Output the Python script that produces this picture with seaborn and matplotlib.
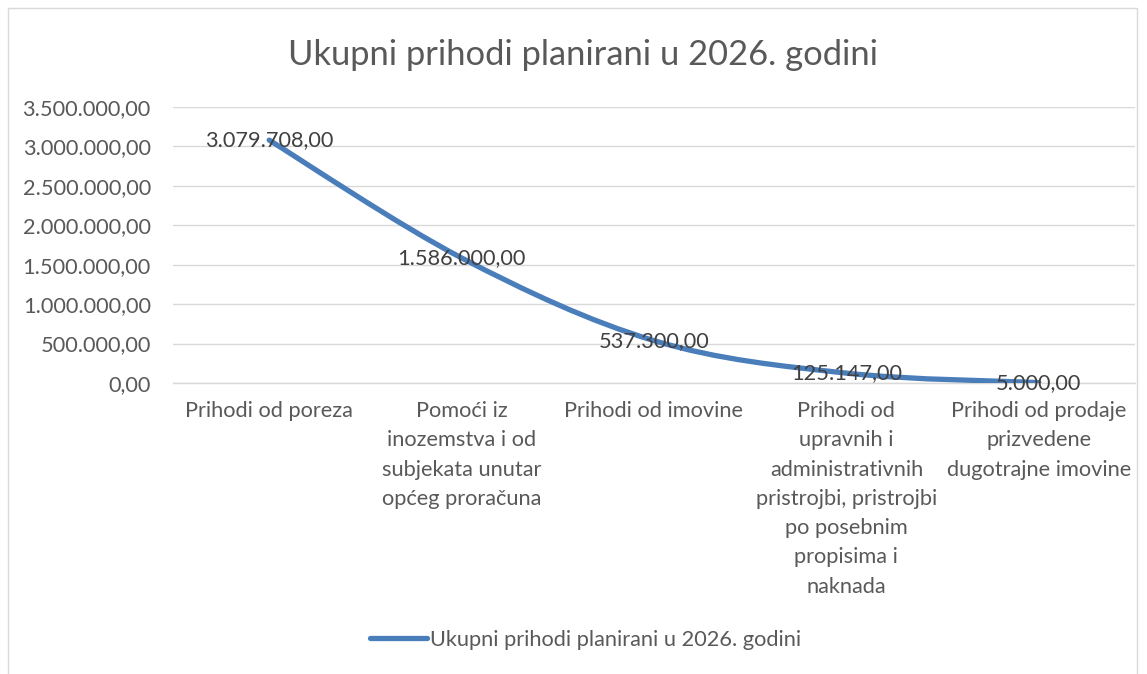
"""
Ukupni prihodi planirani u 2026. godini - smoothed line chart
"""

import numpy as np
import seaborn as sns
import matplotlib.pyplot as plt
from matplotlib.path import Path
from matplotlib.patches import PathPatch, Rectangle
from matplotlib.lines import Line2D

# --- Data ---
categories = [
    "Prihodi od poreza",
    "Pomoći iz\ninozemstva i od\nsubjekata unutar\nopćeg proračuna",
    "Prihodi od imovine",
    "Prihodi od\nupravnih i\nadministrativnih\npristrojbi, pristrojbi\npo posebnim\npropisima i\nnaknada",
    "Prihodi od prodaje\nprizvedene\ndugotrajne imovine",
]
values = [3079708.00, 1586000.00, 537300.00, 125147.00, 5000.00]
y_ticks = [0, 500000, 1000000, 1500000, 2000000, 2500000, 3000000, 3500000]
series_name = "Ukupni prihodi planirani u 2026. godini"
title = "Ukupni prihodi planirani u 2026. godini"

LINE_BLUE = "#4A7EBB"
GREY_TEXT = "#595959"
DARK_TEXT = "#404040"
GRID = "#D9D9D9"
FS = 15.7


def hr_number(v):
    # Croatian format: 3.500.000,00
    s = f"{v:,.2f}"
    return s.replace(",", "X").replace(".", ",").replace("X", ".")


sns.set_theme(style="white")
plt.rcParams["font.family"] = ["Lato", "DejaVu Sans"]

fig = plt.figure(figsize=(11.47, 6.74), dpi=100)
ax = fig.add_axes([173 / 1147, 1 - 383 / 674, (1135 - 173) / 1147, (383 - 107) / 674])

# chart area border
fig.patches.append(Rectangle((8 / 1147, -0.05), (1137 - 8) / 1147, 1.05 - 8 / 674,
                             transform=fig.transFigure, fill=False,
                             edgecolor=GRID, linewidth=1.0))

# --- Smoothed line (Excel-like Catmull-Rom as cubic Bezier) ---
xs = np.arange(len(values), dtype=float)
ys = np.array(values, dtype=float)
px = np.concatenate([[xs[0]], xs, [xs[-1]]])
py = np.concatenate([[ys[0]], ys, [ys[-1]]])
verts = [(xs[0], ys[0])]
codes = [Path.MOVETO]
for i in range(len(xs) - 1):
    c1 = (xs[i] + (px[i + 2] - px[i]) / 6, ys[i] + (py[i + 2] - py[i]) / 6)
    c2 = (xs[i + 1] - (px[i + 3] - px[i + 1]) / 6, ys[i + 1] - (py[i + 3] - py[i + 1]) / 6)
    verts += [c1, c2, (xs[i + 1], ys[i + 1])]
    codes += [Path.CURVE4] * 3
ax.add_patch(PathPatch(Path(verts, codes), facecolor="none", edgecolor=LINE_BLUE,
                       linewidth=3.8, capstyle="round", joinstyle="round", zorder=3))

# data labels
for x, v in zip(xs, values):
    ax.text(x, v, hr_number(v), ha="center", va="center", fontsize=FS,
            color=DARK_TEXT, zorder=4)

# --- Axes styling ---
ax.set_xlim(-0.5, len(values) - 0.5)
ax.set_ylim(0, 3500000)
ax.set_yticks(y_ticks)
ax.set_yticklabels([hr_number(t) for t in y_ticks])
ax.set_xticks(xs)
ax.set_xticklabels(categories, linespacing=1.58)
ax.set_xticks(np.arange(-0.5, len(values), 1.0), minor=True)

ax.tick_params(axis="y", length=0, pad=16, labelsize=FS, labelcolor=GREY_TEXT)
ax.tick_params(axis="x", which="major", length=0, pad=13, labelsize=FS,
               labelcolor=GREY_TEXT)
ax.tick_params(axis="x", which="minor", length=6, width=1, color=GRID, direction="out")
for lbl in ax.get_xticklabels():
    lbl.set_verticalalignment("top")
    lbl.set_horizontalalignment("center")

ax.grid(axis="y", color=GRID, linewidth=1)
ax.set_axisbelow(True)
for side in ["top", "right", "left"]:
    ax.spines[side].set_visible(False)
ax.spines["bottom"].set_color(GRID)
ax.spines["bottom"].set_linewidth(1)

# --- Title & legend ---
fig.text(583 / 1147, 1 - 55 / 674, title, ha="center", va="center",
         fontsize=24.8, color=GREY_TEXT)

handle = Line2D([], [], color=LINE_BLUE, linewidth=3.8, solid_capstyle="round")
fig.legend([handle], [series_name], loc="center",
           bbox_to_anchor=(586 / 1147, 1 - 640 / 674), frameon=False,
           fontsize=FS, labelcolor=GREY_TEXT, handlelength=2.6,
           handletextpad=0.15)

fig.savefig("out.png", dpi=100)
